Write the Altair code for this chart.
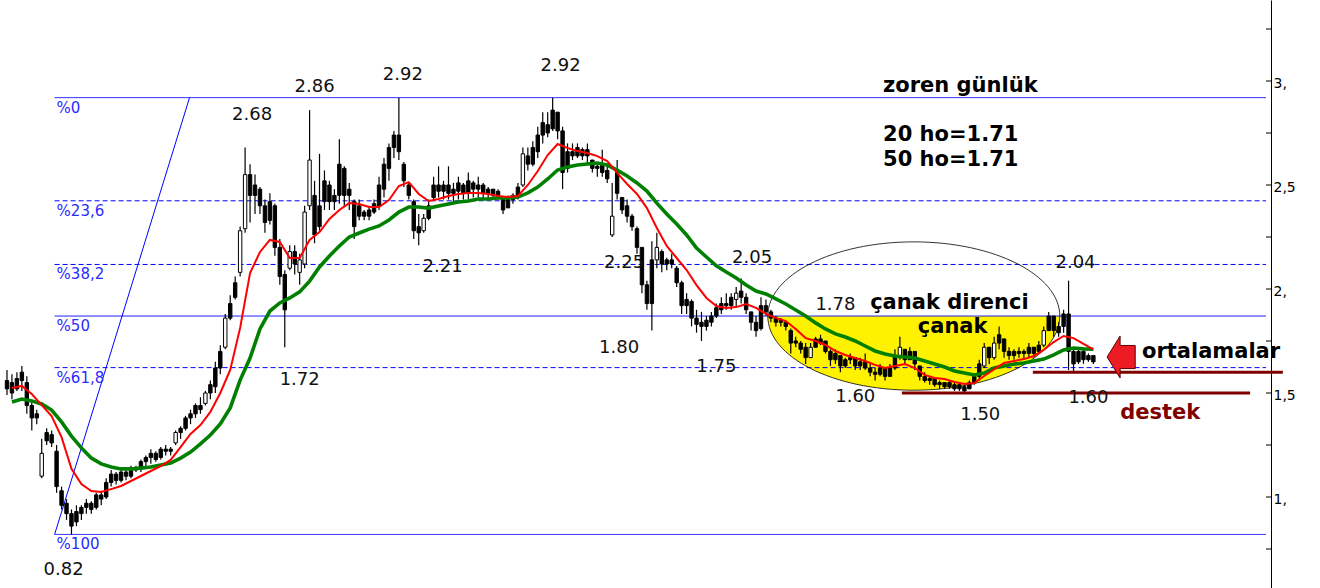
import altair as alt
import pandas as pd

# ---------------- daily candles (TL), one entry per session ----------------
opens = [
    1.56, 1.55, 1.57, 1.60, 1.55, 1.44, 1.40, 1.10, 1.31, 1.30,
    1.22, 1.03, 0.97, 0.92, 0.93, 0.95, 0.97, 0.97, 1.01, 1.01,
    1.07, 1.11, 1.11, 1.12, 1.12, 1.14, 1.14, 1.17, 1.19, 1.21,
    1.21, 1.23, 1.23, 1.23, 1.26, 1.33, 1.38, 1.40, 1.44, 1.44,
    1.45, 1.54, 1.62, 1.70, 1.72, 1.93, 2.03, 2.08, 2.29, 2.55,
    2.50, 2.48, 2.40, 2.42, 2.40, 2.20, 2.07, 2.10, 2.18, 2.08,
    2.12, 2.40, 2.45, 2.40, 2.52, 2.50, 2.45, 2.60, 2.58, 2.48,
    2.42, 2.40, 2.37, 2.38, 2.41, 2.50, 2.60, 2.68, 2.74, 2.74,
    2.60, 2.50, 2.42, 2.30, 2.28, 2.40, 2.50, 2.50, 2.50, 2.50,
    2.48, 2.51, 2.50, 2.52, 2.51, 2.50, 2.50, 2.48, 2.48, 2.47,
    2.44, 2.43, 2.45, 2.49, 2.50, 2.64, 2.68, 2.74, 2.80, 2.79,
    2.86, 2.85, 2.76, 2.66, 2.66, 2.68, 2.67, 2.67, 2.62, 2.59,
    2.60, 2.57, 2.26, 2.56, 2.44, 2.40, 2.35, 2.29, 2.20, 2.02,
    2.14, 2.14, 2.18, 2.14, 2.14, 2.10, 2.03, 1.95, 1.94, 1.86,
    1.84, 1.85, 1.87, 1.91, 1.93, 1.93, 1.96, 1.95, 1.99, 1.96,
    1.89, 1.84, 1.92, 1.92, 1.89, 1.86, 1.85, 1.84, 1.80, 1.75,
    1.74, 1.72, 1.67, 1.76, 1.76, 1.75, 1.70, 1.69, 1.68, 1.66,
    1.67, 1.67, 1.65, 1.65, 1.62, 1.60, 1.62, 1.62, 1.62, 1.68,
    1.67, 1.71, 1.70, 1.70, 1.63, 1.58, 1.57, 1.57, 1.55, 1.55,
    1.55, 1.54, 1.54, 1.53, 1.55, 1.58, 1.64, 1.63, 1.72, 1.67,
    1.78, 1.76, 1.70, 1.70, 1.70, 1.70, 1.72, 1.72, 1.73, 1.73,
    1.87, 1.87, 1.82, 1.88, 1.88, 1.70, 1.70, 1.70, 1.68, 1.68,
]
highs = [
    1.61, 1.59, 1.60, 1.63, 1.58, 1.46, 1.42, 1.28, 1.33, 1.32,
    1.25, 1.05, 0.99, 0.94, 0.96, 0.96, 0.99, 0.98, 1.02, 1.03,
    1.09, 1.13, 1.12, 1.13, 1.14, 1.15, 1.15, 1.18, 1.20, 1.23,
    1.22, 1.24, 1.25, 1.24, 1.32, 1.34, 1.39, 1.42, 1.45, 1.48,
    1.51, 1.56, 1.65, 1.73, 1.88, 1.97, 2.06, 2.30, 2.68, 2.60,
    2.55, 2.49, 2.43, 2.46, 2.41, 2.24, 2.09, 2.21, 2.21, 2.17,
    2.40, 2.86, 2.52, 2.65, 2.57, 2.52, 2.48, 2.72, 2.59, 2.51,
    2.43, 2.43, 2.38, 2.40, 2.43, 2.54, 2.63, 2.70, 2.76, 2.92,
    2.61, 2.51, 2.43, 2.36, 2.36, 2.43, 2.54, 2.59, 2.52, 2.59,
    2.51, 2.54, 2.51, 2.56, 2.52, 2.54, 2.51, 2.49, 2.48, 2.48,
    2.44, 2.45, 2.46, 2.51, 2.68, 2.68, 2.71, 2.78, 2.85, 2.85,
    2.92, 2.85, 2.78, 2.70, 2.70, 2.70, 2.68, 2.70, 2.62, 2.61,
    2.67, 2.59, 2.51, 2.62, 2.44, 2.43, 2.36, 2.30, 2.20, 2.04,
    2.23, 2.27, 2.19, 2.15, 2.17, 2.11, 2.04, 1.98, 1.95, 1.90,
    1.89, 1.87, 1.89, 1.93, 1.96, 1.98, 1.98, 2.01, 2.05, 1.98,
    1.89, 1.87, 1.96, 1.95, 1.90, 1.87, 1.86, 1.84, 1.81, 1.77,
    1.75, 1.74, 1.74, 1.77, 1.78, 1.75, 1.71, 1.71, 1.68, 1.67,
    1.69, 1.67, 1.67, 1.69, 1.64, 1.62, 1.64, 1.62, 1.64, 1.71,
    1.77, 1.71, 1.72, 1.70, 1.63, 1.60, 1.58, 1.57, 1.56, 1.55,
    1.56, 1.55, 1.55, 1.54, 1.56, 1.59, 1.66, 1.74, 1.72, 1.77,
    1.82, 1.76, 1.72, 1.71, 1.72, 1.71, 1.74, 1.72, 1.75, 1.82,
    1.89, 1.87, 1.84, 1.90, 2.04, 1.71, 1.72, 1.71, 1.69, 1.68,
]
lows = [
    1.49, 1.47, 1.51, 1.51, 1.40, 1.32, 1.35, 1.09, 1.25, 1.24,
    1.02, 0.94, 0.89, 0.82, 0.86, 0.89, 0.92, 0.92, 0.94, 0.96,
    0.99, 1.05, 1.06, 1.07, 1.08, 1.09, 1.12, 1.12, 1.14, 1.16,
    1.17, 1.18, 1.20, 1.20, 1.25, 1.28, 1.32, 1.35, 1.38, 1.40,
    1.44, 1.47, 1.50, 1.59, 1.71, 1.85, 1.95, 2.06, 2.27, 2.32,
    2.36, 2.36, 2.27, 2.31, 2.16, 2.02, 1.72, 2.09, 2.07, 2.02,
    2.10, 2.38, 2.22, 2.28, 2.38, 2.38, 2.38, 2.41, 2.40, 2.38,
    2.24, 2.33, 2.33, 2.33, 2.36, 2.38, 2.44, 2.52, 2.63, 2.62,
    2.49, 2.43, 2.24, 2.21, 2.27, 2.33, 2.43, 2.44, 2.43, 2.43,
    2.41, 2.43, 2.43, 2.43, 2.44, 2.44, 2.43, 2.43, 2.43, 2.43,
    2.36, 2.39, 2.41, 2.43, 2.49, 2.57, 2.59, 2.63, 2.70, 2.73,
    2.76, 2.72, 2.48, 2.56, 2.62, 2.63, 2.62, 2.60, 2.56, 2.54,
    2.54, 2.51, 2.25, 2.43, 2.36, 2.32, 2.28, 2.17, 1.98, 1.90,
    1.80, 2.10, 2.08, 2.09, 2.10, 2.01, 1.88, 1.88, 1.82, 1.79,
    1.75, 1.80, 1.82, 1.86, 1.88, 1.90, 1.90, 1.91, 1.93, 1.88,
    1.80, 1.77, 1.80, 1.87, 1.84, 1.82, 1.82, 1.80, 1.69, 1.72,
    1.69, 1.64, 1.67, 1.72, 1.73, 1.69, 1.63, 1.64, 1.60, 1.62,
    1.64, 1.61, 1.61, 1.61, 1.58, 1.56, 1.58, 1.56, 1.58, 1.61,
    1.66, 1.64, 1.66, 1.61, 1.56, 1.55, 1.54, 1.53, 1.52, 1.52,
    1.52, 1.51, 1.51, 1.50, 1.52, 1.54, 1.56, 1.62, 1.64, 1.66,
    1.71, 1.67, 1.66, 1.66, 1.67, 1.66, 1.67, 1.67, 1.69, 1.72,
    1.80, 1.77, 1.77, 1.79, 1.61, 1.60, 1.64, 1.64, 1.65, 1.64,
]
closes = [
    1.52, 1.50, 1.52, 1.56, 1.44, 1.38, 1.38, 1.21, 1.27, 1.26,
    1.05, 0.96, 0.92, 0.86, 0.88, 0.92, 0.95, 0.94, 0.95, 0.99,
    1.00, 1.07, 1.08, 1.08, 1.10, 1.10, 1.13, 1.14, 1.17, 1.19,
    1.18, 1.19, 1.22, 1.22, 1.31, 1.31, 1.33, 1.38, 1.40, 1.42,
    1.50, 1.50, 1.53, 1.62, 1.86, 1.86, 1.96, 2.28, 2.55, 2.45,
    2.45, 2.40, 2.32, 2.33, 2.20, 2.06, 1.90, 2.18, 2.12, 2.14,
    2.37, 2.62, 2.26, 2.30, 2.42, 2.42, 2.42, 2.45, 2.45, 2.45,
    2.30, 2.35, 2.35, 2.35, 2.37, 2.40, 2.48, 2.58, 2.68, 2.66,
    2.52, 2.45, 2.28, 2.27, 2.34, 2.34, 2.44, 2.47, 2.47, 2.46,
    2.46, 2.47, 2.46, 2.46, 2.48, 2.48, 2.46, 2.46, 2.45, 2.45,
    2.38, 2.39, 2.43, 2.44, 2.65, 2.60, 2.60, 2.66, 2.74, 2.75,
    2.77, 2.76, 2.56, 2.58, 2.64, 2.64, 2.64, 2.64, 2.58, 2.58,
    2.56, 2.53, 2.35, 2.46, 2.38, 2.35, 2.30, 2.20, 2.02, 1.93,
    1.93, 2.20, 2.12, 2.12, 2.12, 2.03, 1.92, 1.92, 1.86, 1.83,
    1.82, 1.82, 1.84, 1.87, 1.90, 1.92, 1.92, 1.98, 1.96, 1.90,
    1.84, 1.80, 1.81, 1.89, 1.86, 1.84, 1.84, 1.82, 1.74, 1.74,
    1.71, 1.67, 1.72, 1.72, 1.74, 1.70, 1.66, 1.66, 1.63, 1.63,
    1.66, 1.63, 1.63, 1.62, 1.60, 1.59, 1.59, 1.58, 1.58, 1.62,
    1.72, 1.66, 1.66, 1.64, 1.58, 1.56, 1.56, 1.54, 1.54, 1.53,
    1.53, 1.52, 1.52, 1.51, 1.52, 1.55, 1.58, 1.72, 1.67, 1.74,
    1.74, 1.70, 1.68, 1.68, 1.69, 1.69, 1.69, 1.69, 1.70, 1.80,
    1.80, 1.80, 1.79, 1.82, 1.70, 1.64, 1.65, 1.66, 1.66, 1.65,
]

# ---------------- moving averages, every second session (1, 3, 5, ...) ----------------
ma20 = [
    1.524, 1.534, 1.495, 1.442, 1.389, 1.288, 1.135, 1.062, 1.029, 1.024,
    1.038, 1.053, 1.077, 1.101, 1.125, 1.149, 1.178, 1.240, 1.303, 1.346,
    1.409, 1.500, 1.611, 1.813, 2.077, 2.178, 2.236, 2.226, 2.149, 2.149,
    2.236, 2.274, 2.337, 2.380, 2.413, 2.409, 2.394, 2.394, 2.428, 2.495,
    2.514, 2.457, 2.423, 2.433, 2.447, 2.457, 2.462, 2.462, 2.457, 2.447,
    2.442, 2.447, 2.500, 2.567, 2.644, 2.697, 2.678, 2.663, 2.654, 2.639,
    2.615, 2.558, 2.505, 2.457, 2.389, 2.293, 2.207, 2.149, 2.091, 2.019,
    1.957, 1.918, 1.909, 1.913, 1.928, 1.909, 1.880, 1.861, 1.846, 1.808,
    1.764, 1.750, 1.731, 1.702, 1.683, 1.668, 1.654, 1.635, 1.620, 1.630,
    1.639, 1.620, 1.587, 1.572, 1.567, 1.553, 1.543, 1.548, 1.582, 1.615,
    1.644, 1.654, 1.663, 1.678, 1.707, 1.745, 1.774, 1.764, 1.736, 1.71,
]
ma50 = [
    1.457, 1.471, 1.462, 1.447, 1.418, 1.361, 1.293, 1.236, 1.187, 1.159,
    1.144, 1.135, 1.135, 1.139, 1.144, 1.154, 1.163, 1.187, 1.216, 1.255,
    1.298, 1.351, 1.428, 1.562, 1.668, 1.808, 1.894, 1.933, 1.957, 1.986,
    2.038, 2.106, 2.159, 2.207, 2.250, 2.269, 2.288, 2.303, 2.332, 2.370,
    2.394, 2.394, 2.389, 2.399, 2.409, 2.418, 2.423, 2.433, 2.433, 2.438,
    2.438, 2.442, 2.462, 2.490, 2.529, 2.572, 2.587, 2.596, 2.601, 2.606,
    2.596, 2.572, 2.543, 2.510, 2.471, 2.413, 2.361, 2.312, 2.260, 2.197,
    2.154, 2.111, 2.082, 2.053, 2.019, 1.990, 1.976, 1.952, 1.928, 1.899,
    1.870, 1.837, 1.808, 1.784, 1.769, 1.750, 1.726, 1.702, 1.688, 1.678,
    1.673, 1.668, 1.654, 1.639, 1.625, 1.606, 1.596, 1.587, 1.596, 1.620,
    1.630, 1.639, 1.644, 1.654, 1.663, 1.683, 1.707, 1.716, 1.712, 1.71,
]

# ---------------- fibonacci retracement 0.82 -> 2.92 ----------------
fib_levels = [2.92, 2.424, 2.118, 1.87, 1.622, 0.82]
fib_names = ["%0", "%23,6", "%38,2", "%50", "%61,8", "%100"]
fib_styles = ["solid", "dash", "dash", "solid", "dash", "solid"]
fib_start_session = 9.6
fib_top_session = 36.8
last_session = 253.8

# ---------------- price annotations ----------------
price_labels = ["0.82", "2.68", "2.86", "2.92", "2.92", "2.21", "2.25", "1.80",
                "2.05", "1.75", "1.72", "1.78", "1.60", "1.50", "2.04", "1.60"]
price_label_session = [11.4, 49.4, 62.0, 79.8, 111.6, 87.8, 124.4, 123.4,
                       150.2, 143.0, 59.0, 167.0, 171.0, 196.2, 215.4, 218.0]
price_label_level = [0.625, 2.812, 2.947, 3.005, 3.048, 2.082, 2.101, 1.692,
                     2.124, 1.600, 1.538, 1.899, 1.456, 1.370, 2.101, 1.452]

notes = ["zoren günlük", "20 ho=1.71", "50 ho=1.71", "çanak direnci", "çanak", "ortalamalar"]
note_session = [176.6, 176.6, 176.6, 174.0, 183.6, 228.8]
note_level = [2.947, 2.711, 2.591, 1.903, 1.788, 1.668]

support_levels = [1.50, 1.60]
support_from = [180.4, 206.8]
support_to = [250.6, 257.2]

bowl_session, bowl_level = 182.8, 1.87
arrow_session, arrow_level = 224.6, 1.673
destek_session, destek_level = 224.4, 1.375

axis_values = [0.75, 1.0, 1.25, 1.5, 1.75, 2.0, 2.25, 2.5, 2.75, 3.0, 3.25]

# ---------------- tables ----------------
candles = pd.DataFrame({
    "session": list(range(len(closes))),
    "open": opens, "high": highs, "low": lows, "close": closes,
})
averages = pd.DataFrame({
    "session": [1 + 2 * k for k in range(len(ma20))],
    "ma20": ma20, "ma50": ma50,
})
fib = pd.DataFrame({
    "level": fib_levels, "name": fib_names, "style": fib_styles,
    "x0": fib_start_session, "x1": last_session,
})
diag = pd.DataFrame({"x0": [fib_start_session], "x1": [fib_top_session],
                     "y0": [fib_levels[-1]], "y1": [fib_levels[0]]})
plabels = pd.DataFrame({"text": price_labels, "session": price_label_session,
                        "level": price_label_level})
ntext = pd.DataFrame({"text": notes, "session": note_session, "level": note_level})
supports = pd.DataFrame({"level": support_levels, "x0": support_from, "x1": support_to})
bowl = pd.DataFrame({"session": [bowl_session], "level": [bowl_level]})
arrow = pd.DataFrame({"session": [arrow_session], "level": [arrow_level]})
destek = pd.DataFrame({"text": ["destek"], "session": [destek_session], "level": [destek_level]})
ticks = pd.DataFrame({"level": axis_values})

W, H = 1271, 588
FONT = "DejaVu Sans"
BLUE = "#0000ff"
MAROON = "#800000"

xscale = alt.Scale(domain=[-0.4, last_session], nice=False, zero=False)
yscale = alt.Scale(domain=[0.5625, 3.3894], nice=False, zero=False)
yaxis = alt.Axis(
    orient="right", values=axis_values, title=None, grid=False,
    ticks=False, tickSize=0, domainColor="black", domainWidth=1,
    labelFont=FONT, labelFontSize=14, labelColor="black", labelPadding=2,
    labelOffset=3,
    labelExpr="(datum.value * 2) % 1 == 0 ? replace(replace(format(datum.value, '.1f'), '.0', ','), '.', ',') : ''",
)


def X(field):
    return alt.X(field, type="quantitative", scale=xscale, axis=None)


def Y(field):
    return alt.Y(field, type="quantitative", scale=yscale, axis=yaxis)


# yellow lower half of the bowl and its full outline
half_ellipse = ("M -1 0 C -1 0.2806 -0.5523 0.508 0 0.508 "
                "C 0.5523 0.508 1 0.2806 1 0 Z")
full_ellipse = ("M -1 0 C -1 -0.2806 -0.5523 -0.508 0 -0.508 "
                "C 0.5523 -0.508 1 -0.2806 1 0 "
                "C 1 0.2806 0.5523 0.508 0 0.508 "
                "C -0.5523 0.508 -1 0.2806 -1 0 Z")
left_arrow = "M -0.67 0 L -0.05 -1 L -0.05 -0.55 L 0.67 -0.55 L 0.67 0.55 L -0.05 0.55 L -0.05 1 Z"

bowl_fill = alt.Chart(bowl).mark_point(
    shape=half_ellipse, size=292 * 292, filled=True, color="#fff200",
    opacity=1, strokeWidth=0,
).encode(x=X("session"), y=Y("level"))

bowl_line = alt.Chart(bowl).mark_point(
    shape=full_ellipse, size=292 * 292, filled=False, color="black",
    opacity=1, strokeWidth=0.8,
).encode(x=X("session"), y=Y("level"))

fib_rules = alt.Chart(fib).mark_rule(color=BLUE, strokeWidth=1).encode(
    x=X("x0"), x2="x1", y=Y("level"),
    strokeDash=alt.StrokeDash("style:N", legend=None,
                              scale=alt.Scale(domain=["solid", "dash"], range=[[1, 0], [5, 3]])),
)

diagonal = alt.Chart(diag).mark_rule(color=BLUE, strokeWidth=1).encode(
    x=X("x0"), x2="x1", y=Y("y0"), y2="y1",
)

wicks = alt.Chart(candles).mark_rule(color="black", strokeWidth=1.2).encode(
    x=X("session"), y=Y("low"), y2="high",
)

bodies = alt.Chart(candles).mark_bar(size=3.4, stroke="black", strokeWidth=1).encode(
    x=X("session"), y=Y("open"), y2="close",
    fill=alt.condition("datum.close > datum.open", alt.value("white"), alt.value("black")),
)

green = alt.Chart(averages).mark_line(color="#008000", strokeWidth=3.6, strokeCap="butt").encode(
    x=X("session"), y=Y("ma50"),
)
red = alt.Chart(averages).mark_line(color="#ff0000", strokeWidth=2).encode(
    x=X("session"), y=Y("ma20"),
)

support_rules = alt.Chart(supports).mark_rule(color=MAROON, strokeWidth=3).encode(
    x=X("x0"), x2="x1", y=Y("level"),
)

arrow_mark = alt.Chart(arrow).mark_point(
    shape=left_arrow, size=42 * 42, filled=True, fill="#ed1c24",
    stroke="#5a0000", strokeWidth=1, opacity=1,
).encode(x=X("session"), y=Y("level"))

fib_text = alt.Chart(fib).mark_text(
    font=FONT, fontSize=15, color="#2b2bff", align="left", baseline="alphabetic", dx=2, dy=15,
).encode(x=X("x0"), y=Y("level"), text="name:N")

price_text = alt.Chart(plabels).mark_text(
    font=FONT, fontSize=18, color="#111111", align="center", baseline="alphabetic",
).encode(x=X("session"), y=Y("level"), text="text:N")

note_text = alt.Chart(ntext).mark_text(
    font=FONT, fontSize=21, fontWeight="bold", color="black", align="left", baseline="alphabetic",
).encode(x=X("session"), y=Y("level"), text="text:N")

destek_text = alt.Chart(destek).mark_text(
    font=FONT, fontSize=21, fontWeight="bold", color=MAROON, align="left", baseline="alphabetic",
).encode(x=X("session"), y=Y("level"), text="text:N")

axis_ticks = alt.Chart(ticks).mark_rule(color="black", strokeWidth=1).encode(
    y=Y("level"), x=alt.value(W - 5), x2=alt.value(W),
)

chart = alt.layer(
    bowl_fill, fib_rules, diagonal, bowl_line, wicks, bodies, green, red,
    support_rules, arrow_mark, fib_text, price_text, note_text, destek_text, axis_ticks,
).properties(
    width=W, height=H,
    autosize=alt.AutoSizeParams(type="none"),
    padding={"left": 0, "top": 0, "right": 1320 - W, "bottom": 0},
    background="white",
).configure_view(stroke=None)

chart.save("out.html", embed_options={"renderer": "svg", "actions": False})
